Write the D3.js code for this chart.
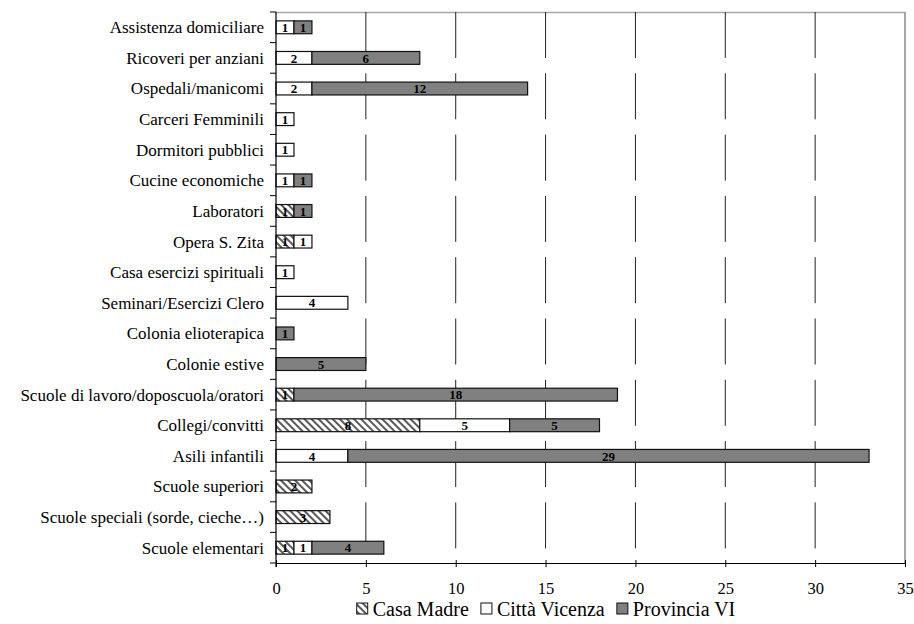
<!DOCTYPE html>
<html>
<head>
<meta charset="utf-8">
<script src="https://cdn.jsdelivr.net/npm/d3@7"></script>
<style>
  html, body { margin: 0; padding: 0; background: #fff; }
  svg { display: block; }
  svg text { font-family: "Liberation Serif", "DejaVu Serif", serif !important; fill: #000; }
</style>
</head>
<body>
<svg id="chart" width="914" height="624"></svg>
<script>
// Categories, listed top to bottom
const categories = [
  "Assistenza domiciliare",
  "Ricoveri per anziani",
  "Ospedali/manicomi",
  "Carceri Femminili",
  "Dormitori pubblici",
  "Cucine economiche",
  "Laboratori",
  "Opera S. Zita",
  "Casa esercizi spirituali",
  "Seminari/Esercizi Clero",
  "Colonia elioterapica",
  "Colonie estive",
  "Scuole di lavoro/doposcuola/oratori",
  "Collegi/convitti",
  "Asili infantili",
  "Scuole superiori",
  "Scuole speciali (sorde, cieche…)",
  "Scuole elementari"
];

const seriesNames = ["Casa Madre", "Città Vicenza", "Provincia VI"];

const casaMadre    = [0, 0, 0, 0, 0, 0, 1, 1, 0, 0, 0, 0, 1, 8, 0, 2, 3, 1];
const cittaVicenza = [1, 2, 2, 1, 1, 1, 0, 1, 1, 4, 0, 0, 0, 5, 4, 0, 0, 1];
const provinciaVI  = [1, 6, 12, 0, 0, 1, 1, 0, 0, 0, 1, 5, 18, 5, 29, 0, 0, 4];

const xTicks = [0, 5, 10, 15, 20, 25, 30, 35];

const FONT = '"Liberation Serif", "DejaVu Serif", serif';

const svg = d3.select("#chart");
const margin = { left: 276, top: 12, right: 9, bottom: 61 };
const W = 914, H = 624;
const x0 = margin.left, x1 = W - margin.right;
const y0 = margin.top, y1 = H - margin.bottom;

const x = d3.scaleLinear().domain([0, 35]).range([x0, x1]);
const y = d3.scaleBand().domain(categories).range([y0, y1]).padding(0);
const barH = y.bandwidth() * 0.42;

// Hatch pattern for "Casa Madre" (back-slash diagonals)
const defs = svg.append("defs");
const pat = defs.append("pattern")
  .attr("id", "hatch")
  .attr("patternUnits", "userSpaceOnUse")
  .attr("width", 5).attr("height", 5)
  .attr("patternTransform", "rotate(45)");
pat.append("rect").attr("width", 5).attr("height", 5).attr("fill", "#fff");
pat.append("rect").attr("x", 0).attr("y", 0).attr("width", 5).attr("height", 2).attr("fill", "#5a5a5a");

// Plot frame: top and right edges
svg.append("line").attr("x1", x0).attr("x2", x1).attr("y1", y0 + 0.5).attr("y2", y0 + 0.5)
  .attr("stroke", "#a6a6a6").attr("stroke-width", 1.5);
svg.append("line").attr("x1", x1).attr("x2", x1).attr("y1", y0).attr("y2", y1)
  .attr("stroke", "#8a8a8a").attr("stroke-width", 1.5);

// Dashed vertical gridlines
svg.append("g").selectAll("line")
  .data(xTicks.filter(d => d > 0 && d < 35))
  .join("line")
  .attr("x1", d => x(d)).attr("x2", d => x(d))
  .attr("y1", y0).attr("y2", y1)
  .attr("stroke", "#222").attr("stroke-width", 1)
  .attr("stroke-dasharray", "46 15.3");

// Stacked bars
const rows = categories.map((c, i) => ({ cat: c, values: [casaMadre[i], cittaVicenza[i], provinciaVI[i]] }));
const fills = ["url(#hatch)", "#ffffff", "#808080"];

const segs = [];
rows.forEach(r => {
  let acc = 0;
  r.values.forEach((v, k) => {
    if (v > 0) segs.push({ cat: r.cat, k, v, start: acc, end: acc + v });
    acc += v;
  });
});

const gBars = svg.append("g");
gBars.selectAll("rect")
  .data(segs)
  .join("rect")
  .attr("x", d => x(d.start))
  .attr("width", d => x(d.end) - x(d.start))
  .attr("y", d => y(d.cat) + (y.bandwidth() - barH) / 2)
  .attr("height", barH)
  .attr("fill", d => fills[d.k])
  .attr("stroke", "#111")
  .attr("stroke-width", 1.2);

gBars.selectAll("text")
  .data(segs)
  .join("text")
  .attr("x", d => (x(d.start) + x(d.end)) / 2)
  .attr("y", d => y(d.cat) + y.bandwidth() / 2)
  .attr("dy", "0.36em")
  .attr("text-anchor", "middle")
  .style("font-family", FONT)
  .attr("font-size", 13)
  .attr("font-weight", "bold")
  .text(d => d.v);

// X axis
const xAxis = svg.append("g")
  .attr("transform", `translate(0,${y1})`)
  .call(d3.axisBottom(x).tickValues(xTicks).tickSize(4).tickSizeOuter(0).tickPadding(15));
xAxis.attr("font-family", null);
xAxis.select(".domain").attr("stroke", "#000").attr("stroke-width", 1.2);
xAxis.selectAll(".tick line").attr("stroke", "#000").attr("y1", -3);
xAxis.selectAll(".tick text")
  .style("font-family", FONT)
  .attr("font-size", 16.5).attr("fill", "#000");

// Y axis: line with ticks at category boundaries
const gy = svg.append("g");
gy.append("line").attr("x1", x0).attr("x2", x0).attr("y1", y0).attr("y2", y1 + 4)
  .attr("stroke", "#000").attr("stroke-width", 1.2);
const bounds = categories.map(c => y(c)).concat([y1]);
gy.selectAll("line.tk")
  .data(bounds)
  .join("line")
  .attr("class", "tk")
  .attr("x1", x0 - 6).attr("x2", x0)
  .attr("y1", d => d).attr("y2", d => d)
  .attr("stroke", "#000").attr("stroke-width", 1);
gy.selectAll("text")
  .data(categories)
  .join("text")
  .attr("x", x0 - 12)
  .attr("y", d => y(d) + y.bandwidth() / 2)
  .attr("dy", "0.35em")
  .attr("text-anchor", "end")
  .style("font-family", FONT)
  .attr("font-size", 17)
  .text(d => d);

// Legend
const legend = svg.append("g");
const legendItems = seriesNames.map((n, k) => ({ name: n, fill: fills[k] }));
const lg = legend.selectAll("g").data(legendItems).join("g");
lg.append("rect")
  .attr("width", 11).attr("height", 11)
  .attr("fill", d => d.fill)
  .attr("stroke", "#111").attr("stroke-width", 1);
lg.append("text")
  .attr("x", 16).attr("y", 5.5).attr("dy", "0.36em")
  .style("font-family", FONT)
  .attr("font-size", 20)
  .text(d => d.name);
const widths = [];
lg.each(function () { widths.push(this.getBBox().width); });
const gap = 12;
const total = d3.sum(widths) + gap * (widths.length - 1);
let cx = 546 - total / 2;
lg.attr("transform", (d, i) => {
  const t = `translate(${cx},${603})`;
  cx += widths[i] + gap;
  return t;
});
</script>
</body>
</html>
